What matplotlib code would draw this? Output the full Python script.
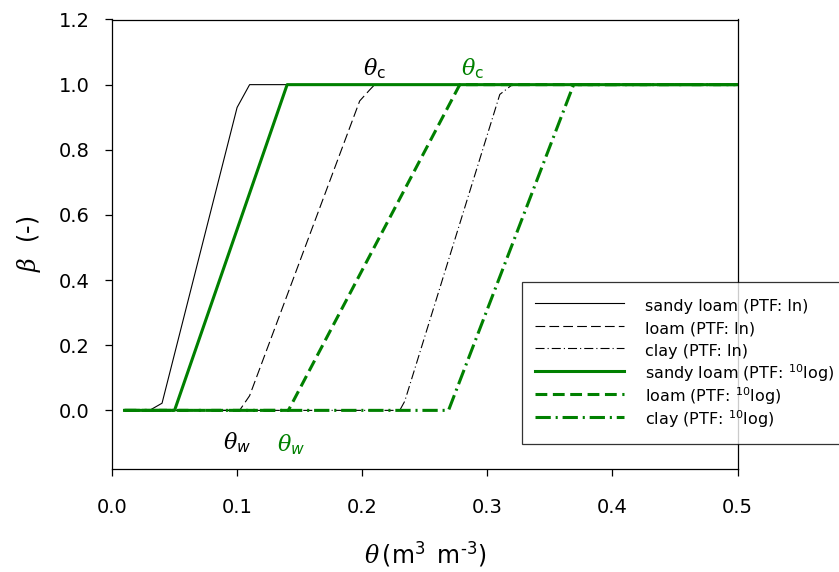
import matplotlib
matplotlib.use("Agg")
import matplotlib.pyplot as plt

# curves (theta, beta)
sl_ln_x = [0.01, 0.03, 0.04, 0.10, 0.11, 0.50]
sl_ln_y = [0.0, 0.0, 0.022, 0.93, 1.0, 1.0]
loam_ln_x = [0.01, 0.102, 0.11, 0.198, 0.206, 0.21, 0.50]
loam_ln_y = [0.0, 0.0, 0.045, 0.95, 0.984, 1.0, 1.0]
clay_ln_x = [0.01, 0.23, 0.234, 0.31, 0.32, 0.50]
clay_ln_y = [0.0, 0.0, 0.028, 0.97, 1.0, 1.0]

sl_log_x = [0.01, 0.05, 0.14, 0.50]
sl_log_y = [0.0, 0.0, 1.0, 1.0]
loam_log_x = [0.01, 0.141, 0.278, 0.50]
loam_log_y = [0.0, 0.0, 1.0, 1.0]
clay_log_x = [0.01, 0.269, 0.369, 0.50]
clay_log_y = [0.0, 0.0, 1.0, 1.0]

labels = ["sandy loam (PTF: ln)", "loam (PTF: ln)", "clay (PTF: ln)",
          "sandy loam (PTF: $^{10}$log)", "loam (PTF: $^{10}$log)",
          "clay (PTF: $^{10}$log)"]

plt.rcParams['font.family'] = ['DejaVu Sans']
plt.rcParams['mathtext.fontset'] = 'custom'
plt.rcParams['mathtext.rm'] = 'DejaVu Sans'
plt.rcParams['mathtext.it'] = 'DejaVu Serif:italic'
plt.rcParams['mathtext.sf'] = 'DejaVu Sans:italic'
plt.rcParams['lines.scale_dashes'] = False

green = '#008000'

fig = plt.figure(figsize=(8.39, 5.72), dpi=100)
ax = fig.add_axes([112/839, 1-469/572, (737.5-112)/839, (469-19.5)/572])

ax.plot(sl_ln_x, sl_ln_y, color='black', lw=0.8, label=labels[0])
ax.plot(loam_ln_x, loam_ln_y, color='black', lw=0.8, dashes=(7, 3), label=labels[1])
ax.plot(clay_ln_x, clay_ln_y, color='black', lw=0.8, dashes=(6.5, 2.2, 0.8, 2.2), label=labels[2])
ax.plot(sl_log_x, sl_log_y, color=green, lw=2.2, label=labels[3])
ax.plot(loam_log_x, loam_log_y, color=green, lw=2.2, dashes=(8.5, 4), label=labels[4])
ax.plot(clay_log_x, clay_log_y, color=green, lw=2.2, dashes=(11, 3.5, 1.5, 3.5), label=labels[5])

ax.set_xlim(0, 0.5)
ax.set_ylim(-0.18, 1.2)
ax.set_xticks([0.0, 0.1, 0.2, 0.3, 0.4, 0.5])
ax.set_yticks([0.0, 0.2, 0.4, 0.6, 0.8, 1.0, 1.2])
ax.set_xticklabels(['0.0', '0.1', '0.2', '0.3', '0.4', '0.5'])
ax.set_yticklabels(['0.0', '0.2', '0.4', '0.6', '0.8', '1.0', '1.2'])
ax.tick_params(direction='out', length=5, width=0.9, labelsize=14)
ax.tick_params(axis='x', pad=16)
ax.tick_params(axis='y', pad=11)
for s in ax.spines.values():
    s.set_linewidth(0.9)

ax.set_xlabel(r'$\theta\,$(m$^{3}$ $\,$m$^{\text{-3}}$)', fontsize=17, labelpad=16)
ax.set_ylabel(r'$\beta$  (-)', fontsize=17, labelpad=11)

ax.text(0.21, 1.05, r'$\theta_{\mathrm{c}}$', fontsize=16, color='black', ha='center', va='center')
ax.text(0.288, 1.05, r'$\theta_{\mathrm{c}}$', fontsize=16, color=green, ha='center', va='center')
ax.text(0.10, -0.10, r'$\theta_{\mathsf{w}}$', fontsize=16, color='black', ha='center', va='center')
ax.text(0.143, -0.105, r'$\theta_{\mathsf{w}}$', fontsize=16, color=green, ha='center', va='center')

leg = ax.legend(loc='upper left', bbox_to_anchor=(522/839, 1-282/572),
                bbox_transform=fig.transFigure, fontsize=11.5, frameon=True,
                fancybox=False, edgecolor='black', handlelength=5.6,
                handleheight=1.8, handletextpad=1.3, labelspacing=0.0,
                borderaxespad=0, borderpad=0.8)
leg.get_frame().set_linewidth(0.9)

fig.savefig('out.png', dpi=100)
